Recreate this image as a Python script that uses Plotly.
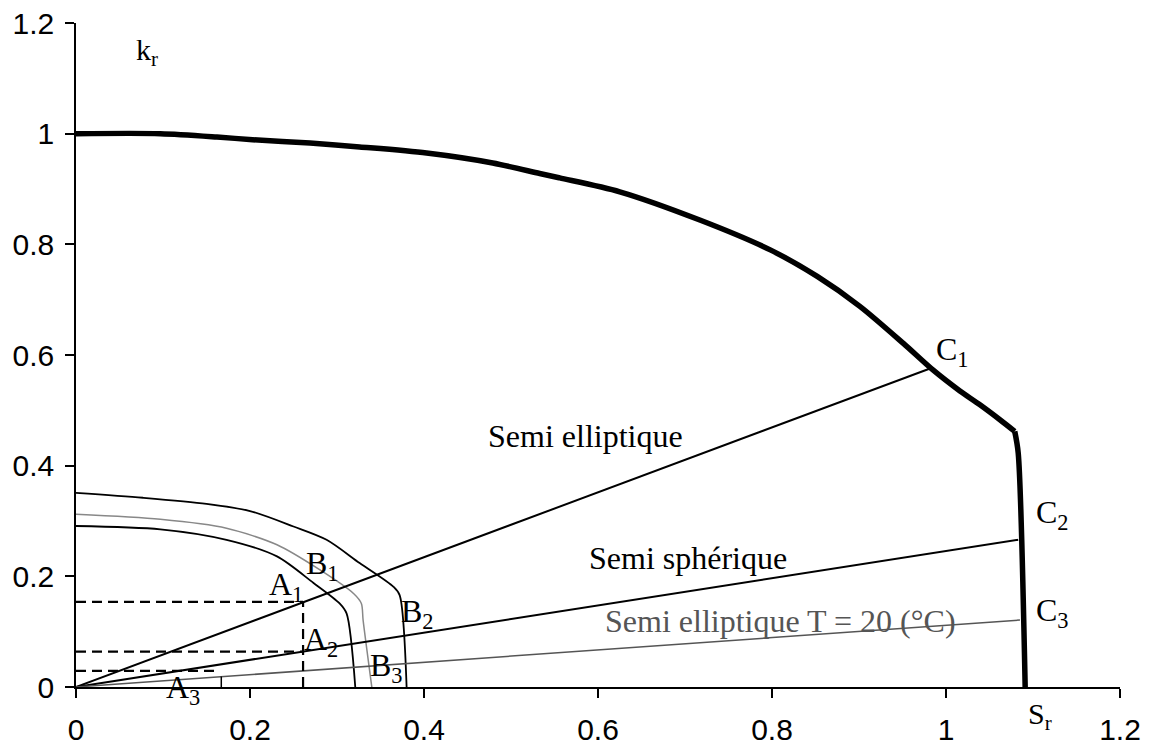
import plotly.graph_objects as go

# Limit curve C (thick)
c_x = [0, 0.097, 0.162, 0.203, 0.269, 0.326, 0.403, 0.479, 0.533, 0.556, 0.625, 0.717, 0.798,
       0.852, 0.901, 0.951, 0.985, 1.016, 1.039, 1.062, 1.079]
c_y = [1.0, 1.0, 0.994, 0.989, 0.983, 0.976, 0.965, 0.947, 0.928, 0.920, 0.895, 0.844, 0.790,
       0.742, 0.688, 0.621, 0.573, 0.535, 0.510, 0.483, 0.462]
c_tail_x = [1.079, 1.083, 1.091]
c_tail_y = [0.462, 0.423, 0.0]

# Inner curves (B)
b_outer_x = [0, 0.077, 0.150, 0.200, 0.250, 0.288, 0.326, 0.365, 0.372, 0.380]
b_outer_y = [0.351, 0.342, 0.331, 0.318, 0.290, 0.266, 0.224, 0.181, 0.166, 0.0]
b_mid_x = [0, 0.097, 0.173, 0.231, 0.280, 0.319, 0.328, 0.330, 0.340]
b_mid_y = [0.312, 0.303, 0.287, 0.257, 0.212, 0.169, 0.151, 0.121, 0.0]
b_inner_x = [0, 0.097, 0.173, 0.231, 0.273, 0.303, 0.311, 0.321]
b_inner_y = [0.291, 0.285, 0.266, 0.236, 0.188, 0.151, 0.133, 0.0]

# Load lines from origin
line_ell_x = [0, 0.984]
line_ell_y = [0, 0.577]
line_sph_x = [0, 1.083]
line_sph_y = [0, 0.266]
line_t20_x = [0, 1.085]
line_t20_y = [0, 0.121]

# Dashed construction lines
a1_h_x = [0, 0.261]
a1_h_y = [0.154, 0.154]
a1_v_x = [0.261, 0.261]
a1_v_y = [0, 0.154]
a2_h_x = [0, 0.261]
a2_h_y = [0.064, 0.064]
a3_h_x = [0, 0.162]
a3_h_y = [0.029, 0.029]
a3_v_x = [0.167, 0.167]
a3_v_y = [0, 0.019]

# Labels (in data units)
label_text = ["A<sub>1</sub>", "A<sub>2</sub>", "A<sub>3</sub>", "B<sub>1</sub>", "B<sub>2</sub>", "B<sub>3</sub>",
              "C<sub>1</sub>", "C<sub>2</sub>", "C<sub>3</sub>", "S<sub>r</sub>", "k<sub>r</sub>",
              "Semi elliptique", "Semi sphérique", "Semi elliptique T = 20 (°C)"]
label_x = [0.241, 0.282, 0.123, 0.283, 0.393, 0.357, 1.008, 1.122, 1.122, 1.108, 0.082, 0.586, 0.703, 0.810]
label_y = [0.181, 0.083, -0.005, 0.219, 0.132, 0.036, 0.606, 0.311, 0.134, -0.053, 1.148, 0.454, 0.233, 0.119]
label_size = [32] * 9 + [30, 30] + [32, 32, 32]
label_color = ["black"] * 13 + ["#555555"]

axis_range = [0, 1.2]
tick_vals = [0, 0.2, 0.4, 0.6, 0.8, 1.0, 1.2]
tick_text = ["0", "0.2", "0.4", "0.6", "0.8", "1", "1.2"]

fig = go.Figure()

def add_line(x, y, color="black", width=2, dash="solid", shape="linear"):
    fig.add_trace(go.Scatter(x=x, y=y, mode="lines", cliponaxis=False,
                             line=dict(color=color, width=width, dash=dash, shape=shape, smoothing=0.8),
                             showlegend=False, hoverinfo="skip"))

add_line(c_x, c_y, width=5.5, shape="spline")
add_line(c_tail_x, c_tail_y, width=5.5, shape="spline")
add_line(b_outer_x, b_outer_y, width=1.8, shape="spline")
add_line(b_mid_x, b_mid_y, color="#888888", width=1.5, shape="spline")
add_line(b_inner_x, b_inner_y, width=1.8, shape="spline")
add_line(line_ell_x, line_ell_y, width=2)
add_line(line_sph_x, line_sph_y, width=2)
add_line(line_t20_x, line_t20_y, color="#555555", width=1.5)
add_line(a1_h_x, a1_h_y, width=2.2, dash="10px,6px")
add_line(a1_v_x, a1_v_y, width=2.2, dash="10px,6px")
add_line(a2_h_x, a2_h_y, width=2.2, dash="10px,6px")
add_line(a3_h_x, a3_h_y, width=2.2, dash="10px,6px")
add_line(a3_v_x, a3_v_y, width=1.5)

span = axis_range[1] - axis_range[0]
for t, x, y, s, col in zip(label_text, label_x, label_y, label_size, label_color):
    # paper coordinates so labels just outside the data range are still drawn
    fig.add_annotation(x=(x - axis_range[0]) / span, y=(y - axis_range[0]) / span,
                       xref="paper", yref="paper", text=t, showarrow=False,
                       xanchor="center", yanchor="middle",
                       font=dict(family="Liberation Serif", size=s, color=col))

axis_common = dict(
    range=axis_range, tickvals=tick_vals, ticktext=tick_text, ticks="outside", ticklen=9,
    tickwidth=1.5, tickcolor="black", showline=True, linecolor="black", linewidth=1.5,
    showgrid=False, zeroline=False, automargin=False, ticklabeloverflow="allow",
    tickfont=dict(family="Liberation Sans", size=30, color="black"),
)

# page body has an 8px default margin, so the figure is offset by 8px
fig.update_layout(
    width=1146, height=744,
    margin=dict(l=68, r=34, t=15, b=65),
    paper_bgcolor="white", plot_bgcolor="white",
    xaxis=dict(**axis_common, ticklabelstandoff=6),
    yaxis=dict(**axis_common, ticklabelstandoff=5),
)

fig.write_html("out.html")
